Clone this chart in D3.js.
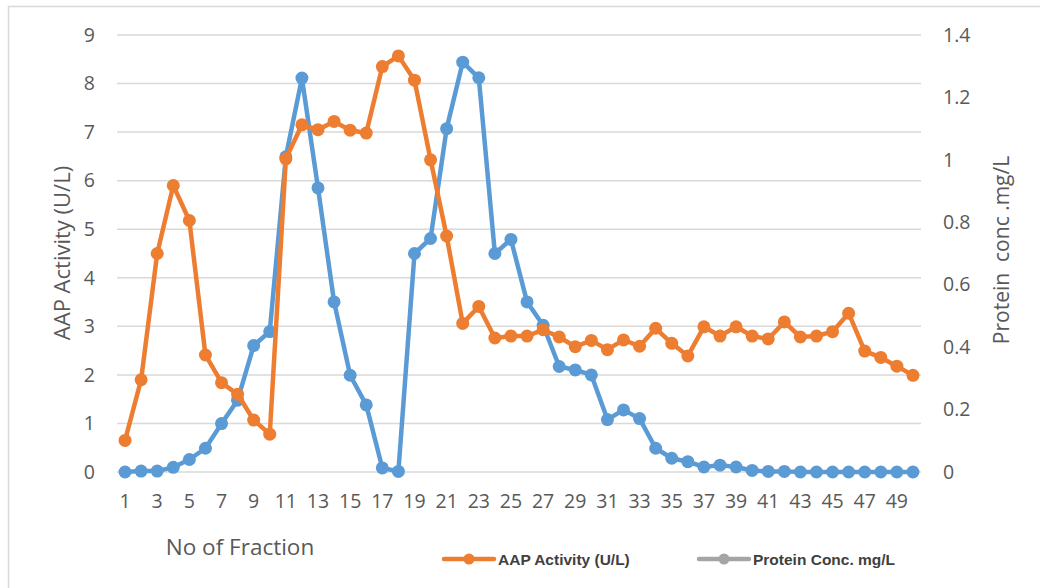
<!DOCTYPE html>
<html>
<head>
<meta charset="utf-8">
<script src="https://cdn.jsdelivr.net/npm/d3@7"></script>
<style>
  html, body { margin: 0; padding: 0; background: #fff; }
  svg { display: block; }
</style>
</head>
<body>
<svg id="chart" width="1040" height="588"></svg>
<script>
const fractions = d3.range(1, 51);
const aapActivity = [0.65, 1.9, 4.5, 5.9, 5.18, 2.41, 1.84, 1.6, 1.07, 0.78,
  6.45, 7.15, 7.05, 7.22, 7.04, 6.98, 8.35, 8.57, 8.07, 6.43,
  4.86, 3.06, 3.41, 2.76, 2.8, 2.8, 2.93, 2.78, 2.58, 2.71,
  2.52, 2.72, 2.59, 2.96, 2.65, 2.39, 2.99, 2.8, 2.99, 2.8,
  2.74, 3.09, 2.78, 2.8, 2.89, 3.27, 2.49, 2.36, 2.18, 1.99];
const proteinConc = [0, 0.003, 0.003, 0.015, 0.04, 0.076, 0.155, 0.23, 0.405, 0.45,
  1.01, 1.262, 0.91, 0.545, 0.31, 0.215, 0.013, 0.002, 0.7, 0.748,
  1.1, 1.313, 1.263, 0.7, 0.745, 0.545, 0.47, 0.338, 0.327, 0.311,
  0.168, 0.199, 0.171, 0.076, 0.044, 0.033, 0.016, 0.022, 0.016, 0.005,
  0.002, 0.002, 0, 0, 0, 0, 0, 0, 0, 0];
const leftTicks = [0, 1, 2, 3, 4, 5, 6, 7, 8, 9];
const rightTicks = [0, 0.2, 0.4, 0.6, 0.8, 1, 1.2, 1.4];
const xTickLabels = fractions.filter(d => d % 2 === 1);
const labels = {
  x: "No of Fraction",
  yLeft: "AAP Activity (U/L)",
  yRight: "Protein  conc .mg/L",
  legendA: "AAP Activity (U/L)",
  legendB: "Protein Conc. mg/L"
};

const svg = d3.select("#chart");
const plot = { left: 117, right: 921, top: 35, bottom: 472 };
const orange = "#ED7D31", blue = "#5B9BD5", grid = "#D9D9D9", txt = "#595959";
const font = "'Open Sans', sans-serif";

svg.append("rect").attr("x", 8.5).attr("y", 6.5).attr("width", 1040).attr("height", 600)
  .attr("fill", "#fff").attr("stroke", grid).attr("stroke-width", 1.5);

const x = d3.scaleBand().domain(fractions).range([plot.left, plot.right]);
const xc = d => x(d) + x.bandwidth() / 2;
const yL = d3.scaleLinear().domain([0, 9]).range([plot.bottom, plot.top]);
const yR = d3.scaleLinear().domain([0, 1.4]).range([plot.bottom, plot.top]);
const fmt = d3.format("~g");

// gridlines
svg.append("g").selectAll("line").data(leftTicks).join("line")
  .attr("x1", plot.left).attr("x2", plot.right)
  .attr("y1", d => yL(d)).attr("y2", d => yL(d))
  .attr("stroke", grid).attr("stroke-width", 1.5);

// left axis
const gL = svg.append("g").attr("transform", `translate(${plot.left},0)`)
  .call(d3.axisLeft(yL).tickValues(leftTicks).tickFormat(fmt).tickSize(0).tickPadding(22));
gL.select(".domain").remove();
gL.selectAll("text").attr("font-family", font).attr("font-size", 19.5).attr("fill", txt);

// right axis
const gR = svg.append("g").attr("transform", `translate(${plot.right},0)`)
  .call(d3.axisRight(yR).tickValues(rightTicks).tickFormat(fmt).tickSize(0).tickPadding(22));
gR.select(".domain").remove();
gR.selectAll("text").attr("font-family", font).attr("font-size", 19.5).attr("fill", txt);

// x axis
const gX = svg.append("g").attr("transform", `translate(0,${plot.bottom})`)
  .call(d3.axisBottom(x).tickValues(xTickLabels).tickFormat(fmt).tickSize(0).tickPadding(22));
gX.select(".domain").remove();
gX.selectAll("text").attr("font-family", font).attr("font-size", 19.5).attr("fill", txt);

// axis titles
svg.append("text").attr("x", 240).attr("y", 555).attr("text-anchor", "middle")
  .attr("font-family", font).attr("font-size", 22.5).attr("fill", txt).text(labels.x);
svg.append("text").attr("transform", "translate(70,253) rotate(-90)").attr("text-anchor", "middle")
  .attr("font-family", font).attr("font-size", 22).attr("fill", txt).text(labels.yLeft);
svg.append("text").attr("transform", "translate(1009,250) rotate(-90)").attr("text-anchor", "middle")
  .attr("font-family", font).attr("font-size", 21).attr("fill", txt)
  .style("white-space", "pre").text(labels.yRight);

// series
function drawSeries(values, yScale, color) {
  const pts = fractions.map((f, i) => [xc(f), yScale(values[i])]);
  svg.append("path").datum(pts)
    .attr("d", d3.line())
    .attr("fill", "none").attr("stroke", color).attr("stroke-width", 4.5)
    .attr("stroke-linejoin", "round").attr("stroke-linecap", "round");
  svg.append("g").selectAll("circle").data(pts).join("circle")
    .attr("cx", d => d[0]).attr("cy", d => d[1]).attr("r", 6.5).attr("fill", color);
}
drawSeries(proteinConc, yR, blue);
drawSeries(aapActivity, yL, orange);

// legend
function legendItem(x0, color, label) {
  const g = svg.append("g");
  g.append("line").attr("x1", x0).attr("x2", x0 + 50).attr("y1", 559).attr("y2", 559)
    .attr("stroke", color).attr("stroke-width", 4.5).attr("stroke-linecap", "round");
  g.append("circle").attr("cx", x0 + 25).attr("cy", 559).attr("r", 5.5).attr("fill", color);
  g.append("text").attr("x", x0 + 54).attr("y", 564.5)
    .attr("font-family", "'Liberation Sans', Arial, sans-serif").attr("font-weight", "bold")
    .attr("font-size", 15.5).attr("fill", "#404040").text(label);
}
legendItem(444, orange, labels.legendA);
legendItem(699, "#A5A5A5", labels.legendB);
</script>
</body>
</html>
